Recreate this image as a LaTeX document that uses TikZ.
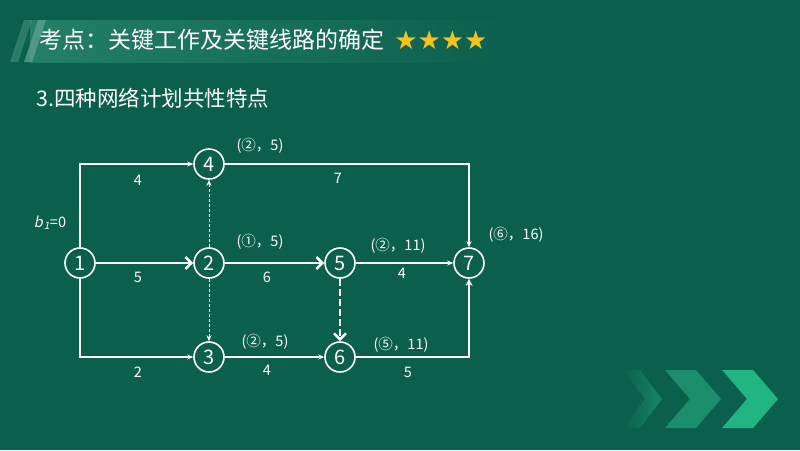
\documentclass[tikz,border=0pt]{standalone}
\usepackage{fontspec}
\setmainfont{Noto Sans CJK SC}[AutoFakeSlant=0.2]
\newfontfamily\symfont{DejaVu Sans}
\usetikzlibrary{arrows.meta}
\definecolor{bgreen}{HTML}{0B5F4D}
\definecolor{bandgreen}{HTML}{237F66}
\definecolor{stargold}{HTML}{F7C31B}
\definecolor{chevA}{HTML}{1B8F6C}
\definecolor{chevB}{HTML}{22B584}
\begin{document}
\begin{tikzpicture}[x=1pt,y=-1pt,
	event/.style={circle,draw=white,line width=1.6pt,minimum size=30pt,inner sep=0pt,text=white,font=\fontsize{20}{20}\selectfont},
	work/.style={white,line width=1.2pt,-{Stealth[length=6pt,width=5pt]}},
	keywork/.style={white,line width=2.5pt,-{Straight Barb[length=6pt,width=12pt]}},
	dummy/.style={work,line width=1pt,dash pattern=on 3pt off 2pt},
	keydummy/.style={keywork,dash pattern=on 7pt off 3pt},
	dur/.style={text=white,font=\fontsize{14.5}{14.5}\selectfont},
	tag/.style={text=white,font=\fontsize{14.5}{14.5}\selectfont}]
	% background
	\fill[bgreen] (0,0) rectangle (800,450);
	\useasboundingbox (0,0) rectangle (800,450);
	\shade[left color=bandgreen,right color=bgreen] (30,20) rectangle (520,62);
	\fill[bandgreen!80!white,opacity=.5] (10,62) -- (24,20) -- (32,20) -- (18,62) -- cycle;
	\fill[bandgreen!70!white,opacity=.7] (24,62) -- (38,20) -- (46,20) -- (32,62) -- cycle;
	\foreach \xc/\col in {665/chevA,722/chevB}
		\fill[\col] (\xc,370) -- (\xc+31,370) -- (\xc+56,399) -- (\xc+31,428) -- (\xc,428) -- (\xc+25,399) -- cycle;
	\shade[left color=bgreen,right color=chevA!80!bgreen] (623,370) -- (640,370) -- (662,399) -- (640,428) -- (623,428) -- (645,399) -- cycle;
	% headings
	\node[anchor=west,text=white,font=\fontsize{23}{23}\selectfont] (title) at (36,40) {考点：关键工作及关键线路的确定};
	\node[anchor=west,text=stargold,font=\symfont\fontsize{26}{26}\selectfont,inner sep=0pt] (stars) at ([xshift=6pt]title.east) {★★★★};
	\node[anchor=west,text=white,font=\fontsize{21.5}{21.5}\selectfont] (sub) at (33,98) {3.四种网络计划共性特点};
	% events
	\node[event] (n1) at (80,263) {1};
	\node[event] (n2) at (209,263) {2};
	\node[event] (n3) at (209,357) {3};
	\node[event] (n4) at (209,164) {4};
	\node[event] (n5) at (340,263) {5};
	\node[event] (n6) at (340,357) {6};
	\node[event] (n7) at (469,263) {7};
	% works
	\draw[work] (n1.north) |- (n4.west);
	\draw[work] (n1.south) |- (n3.west);
	\draw[keywork] (n1) -- (n2);
	\draw[dummy] (n2) -- (n4);
	\draw[dummy] (n2) -- (n3);
	\draw[keywork] (n2) -- (n5);
	\draw[work] (n5) -- (n7);
	\draw[keydummy] (n5) -- (n6);
	\draw[work] (n3) -- (n6);
	\draw[work] (n4.east) -| (n7.north);
	\draw[keywork,-{Stealth[length=7pt,width=7pt]}] (n6.east) -| (n7.south);
	% durations
	\node[dur] (d14) at (138,180) {4};
	\node[dur] (d47) at (338,178) {7};
	\node[dur] (d12) at (138,277) {5};
	\node[dur] (d25) at (267,277) {6};
	\node[dur] (d57) at (402,273) {4};
	\node[dur] (d13) at (138,372) {2};
	\node[dur] (d36) at (267,370) {4};
	\node[dur] (d67) at (408,372) {5};
	% labels
	\node[tag] (t1) at (50,223) {\itshape b\kern1pt\textsubscript{1}\upshape=0};
	\node[tag] (t4) at (260,146) {(②，5)};
	\node[tag] (t2) at (260,242) {(①，5)};
	\node[tag] (t5) at (398,246) {(②，11)};
	\node[tag] (t7) at (516,235) {(⑥，16)};
	\node[tag] (t3) at (265,342) {(②，5)};
	\node[tag] (t6) at (401,345) {(⑤，11)};
\end{tikzpicture}
\end{document}
